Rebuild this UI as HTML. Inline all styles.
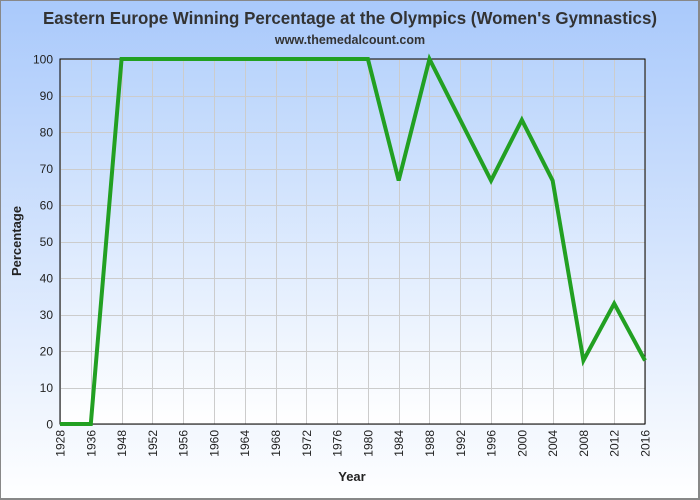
<!DOCTYPE html>
<html><head><meta charset="utf-8"><style>
body{margin:0;width:700px;height:500px;overflow:hidden}
svg{display:block;font-family:"Liberation Sans",sans-serif}
</style></head><body>
<svg width="700" height="500" xmlns="http://www.w3.org/2000/svg">
<defs>
<linearGradient id="bg" x1="0" y1="0" x2="0" y2="1">
<stop offset="0" stop-color="#a9c9fb"/><stop offset="1" stop-color="#ffffff"/></linearGradient>
<linearGradient id="pg" x1="0" y1="0" x2="0" y2="1">
<stop offset="0" stop-color="#b9d4fc"/><stop offset="1" stop-color="#ffffff"/></linearGradient>
</defs>
<rect x="0" y="0" width="700" height="500" fill="url(#bg)"/>
<rect x="0.5" y="0.5" width="698" height="498" fill="none" stroke="#888" stroke-width="1"/>
<rect x="698" y="0" width="2" height="500" fill="#888"/>
<rect x="0" y="498" width="700" height="2" fill="#888"/>
<text x="350" y="24" text-anchor="middle" font-size="17.5" font-weight="bold" fill="#333" textLength="614" lengthAdjust="spacingAndGlyphs">Eastern Europe Winning Percentage at the Olympics (Women's Gymnastics)</text>
<text x="350" y="44" text-anchor="middle" font-size="12.5" font-weight="bold" fill="#333">www.themedalcount.com</text>
<rect x="60" y="59" width="585" height="365" fill="url(#pg)"/>
<g stroke="#ccc" stroke-width="1" id="grid"></g>
<rect x="60" y="59" width="585" height="365" fill="none" stroke="#000" stroke-width="1"/>
<g id="lab" font-size="12" fill="#222"></g>
<text x="352" y="481" text-anchor="middle" font-size="13" font-weight="bold" fill="#222">Year</text>
<text transform="translate(21,241) rotate(-90)" text-anchor="middle" font-size="13" font-weight="bold" fill="#222">Percentage</text>
<polyline id="line" fill="none" stroke="#22a022" stroke-width="4" stroke-linejoin="miter"/>
</svg>
<script>
var yrs=[1928,1936,1948,1952,1956,1960,1964,1968,1972,1976,1980,1984,1988,1992,1996,2000,2004,2008,2012,2016];
var v=[0,0,100,100,100,100,100,100,100,100,100,66.7,100,83.3,66.7,83.3,66.7,17.4,33,17.4];
var ns="http://www.w3.org/2000/svg",g=document.getElementById('grid'),l=document.getElementById('lab');
function X(i){return 60+i*585/19}function Y(p){return 424-p*3.65}
function el(t,a,p,tx){var e=document.createElementNS(ns,t);for(var k in a)e.setAttribute(k,a[k]);if(tx!==undefined)e.textContent=String(tx);p.appendChild(e)}
for(var i=0;i<20;i++){var x=Math.round(X(i))+.5;el('line',{x1:x,x2:x,y1:59,y2:424},g);
el('text',{transform:'translate('+(X(i)+4.5)+',430) rotate(-90)','text-anchor':'end'},l,yrs[i]);}
for(var p=0;p<=100;p+=10){var y=Math.round(Y(p))+.5;el('line',{x1:60,x2:645,y1:y,y2:y},g);
el('text',{x:53,y:Y(p)+4.5,'text-anchor':'end'},l,p);}
document.getElementById('line').setAttribute('points',v.map(function(p,i){return X(i)+','+Y(p)}).join(' '));
</script>
</body></html>
